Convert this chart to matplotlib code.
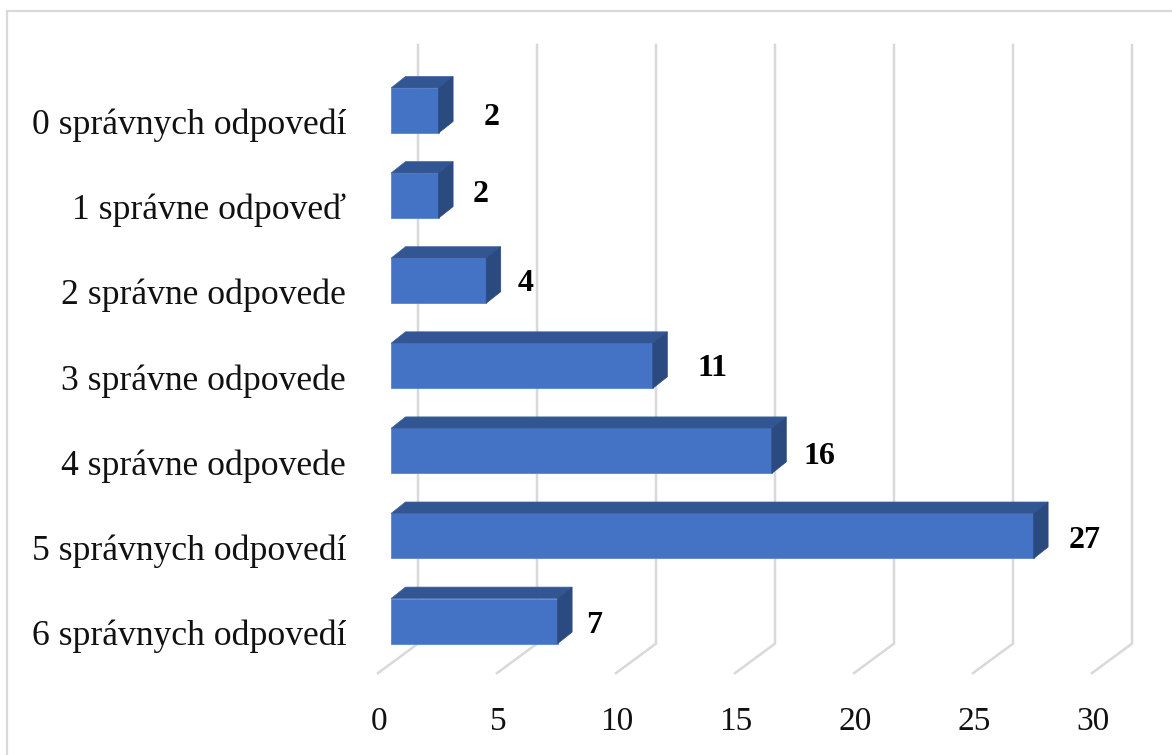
import matplotlib
matplotlib.use('Agg')
import matplotlib.pyplot as plt
from matplotlib.patches import Polygon, Rectangle
from matplotlib.transforms import ScaledTranslation

plt.rcParams['font.family'] = ['Liberation Serif', 'DejaVu Serif']

categories = ['0 správnych odpovedí', '1 správne odpoveď', '2 správne odpovede',
              '3 správne odpovede', '4 správne odpovede', '5 správnych odpovedí',
              '6 správnych odpovedí']
values = [2, 2, 4, 11, 16, 27, 7]
xticks = [0, 5, 10, 15, 20, 25, 30]

# hand placed data labels in the original, offset from bar end in pixels
label_dx = [53, 42, 39, 60, 48, 51, 37]
label_dy = [7, -1, 3, 3, 6, 5, 4]

W, H = 1172, 755
PX_X = 23.8   # pixels per value
PX_Y = 85.1   # pixels per category
X0, Y0 = 391, 110.5  # pixel of value 0, first category

fig = plt.figure(figsize=(W / 100, H / 100), dpi=100)
fig.add_artist(Rectangle((7 / W, -0.01), 1.2, 1 - 11 / H + 0.01, transform=fig.transFigure,
                         fill=False, ec='#d9d9d9', lw=1.6))

top, bottom = 20, 700
ax = fig.add_axes([X0 / W, 1 - bottom / H, (W - X0) / W, (bottom - top) / H])
ax.set_xlim(0, (W - X0) / PX_X)
ax.set_ylim((bottom - Y0) / PX_Y, (top - Y0) / PX_Y)
ax.patch.set_alpha(0)
for s in ax.spines.values():
    s.set_visible(False)

# depth of the fake 3d, in data units
dx = 14.5 / PX_X
dy = 11.5 / PX_Y
h = 45 / PX_Y
n = len(categories)
floor_y = n - 1 + h / 2
grid_top = -0.77

# gridlines on back wall and floor
for t in xticks:
    xb = t + 27 / PX_X
    xf = t - 13 / PX_X
    ax.plot([xb, xb, xf], [grid_top, floor_y, floor_y + 29.5 / PX_Y], color='#d9d9d9', lw=1.8,
            clip_on=False, zorder=1, solid_joinstyle='miter')

bars = ax.barh(range(n), values, height=h, color='#4472c4', edgecolor='#5b85d0', linewidth=0.6, zorder=3)

for i, v in enumerate(values):
    yt = i - h / 2
    yb = i + h / 2
    ax.add_patch(Polygon([(0, yt), (v, yt), (v + dx, yt - dy), (dx, yt - dy)],
                         fc='#325691', ec='#3f63a3', lw=0.5, zorder=3))
    ax.add_patch(Polygon([(v, yt), (v + dx, yt - dy), (v + dx, yb - dy), (v, yb)],
                         fc='#2b4a80', ec='#2b4a80', lw=0.5, zorder=3))
    ax.annotate(str(v), (v, i), xytext=(label_dx[i] * 0.72, -label_dy[i] * 0.72), textcoords='offset points',
                ha='center', va='center', fontsize=23, fontweight='bold', color='black', zorder=4)

ax.set_yticks(range(n))
ax.set_yticklabels(categories, fontsize=25.7, color='#111111')
ax.tick_params(axis='y', length=0, pad=45 * 0.72)
ax.set_xticks(xticks)
ax.set_xticklabels([str(t) for t in xticks], fontsize=24, color='#111111')
ax.tick_params(axis='x', length=0, pad=5)
xshift = ScaledTranslation(-12 / 100, 0, fig.dpi_scale_trans)
for lab in ax.get_xticklabels():
    lab.set_transform(lab.get_transform() + xshift)
# category labels sit lower than the bars in the original
yshift = ScaledTranslation(0, -11 / 100, fig.dpi_scale_trans)
for lab in ax.get_yticklabels():
    lab.set_transform(lab.get_transform() + yshift)

fig.savefig('out.png', dpi=100)
